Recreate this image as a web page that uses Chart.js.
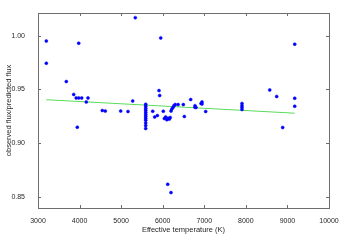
<!DOCTYPE html>
<html>
<head>
<meta charset="utf-8">
<script src="https://cdn.jsdelivr.net/npm/chart.js@4/dist/chart.umd.min.js"></script>
<style>
  html, body { margin: 0; padding: 0; background: #fff; overflow: hidden; }
  #fluxChart { display: block; }
</style>
</head>
<body>
<canvas id="fluxChart" width="351" height="248"></canvas>
<script>
// effective temperature (K) of each star
const tempK = [
    3200, 3200, 3979, 3681, 3859, 3918, 3979, 4051, 4203, 4162, 3945,
    4547, 4619, 4989, 5165, 5278, 5340,
    5591, 5591, 5591, 5591, 5591, 5591, 5591, 5591, 5591, 5591, 5591, 5591,
    5759, 5806, 5870, 5927, 5911, 5952, 6014,
    6040, 6070, 6100, 6130, 6160, 6180, 6120, 6199,
    6200, 6220, 6250, 6270, 6300, 6370, 6495, 6520, 6673, 6777, 6777, 6921,
    6800, 6945, 6945, 7034,
    7907, 7907, 7907, 7907,
    8574, 8742, 8886, 9175, 9175, 9175
];
// observed flux / predicted flux
const fluxRatio = [
    0.995, 0.9744, 0.993, 0.9574, 0.9454, 0.9422, 0.9422, 0.9422, 0.9422, 0.9385, 0.915,
    0.9305, 0.930, 0.930, 0.9296, 0.9394, 1.0167,
    0.9363, 0.9345, 0.9326, 0.9308, 0.9289, 0.927, 0.9252, 0.9233, 0.9215, 0.919, 0.9165, 0.9138,
    0.9298, 0.9245, 0.9258, 0.9444, 0.949, 0.9979, 0.9298,
    0.9230, 0.9245, 0.9220, 0.9232, 0.9225, 0.9240, 0.862, 0.8543,
    0.9300, 0.9320, 0.9335, 0.9350, 0.9360, 0.936, 0.936, 0.925, 0.9407, 0.935, 0.9335, 0.937,
    0.9333, 0.9385, 0.9366, 0.9296,
    0.937, 0.935, 0.9333, 0.9314,
    0.9496, 0.9435, 0.9147, 0.9921, 0.9419, 0.9345
];
// linear fit end points
const fitTemp = [3200, 9175];
const fitRatio = [0.9405, 0.9280];

const xTicks = [3000, 4000, 5000, 6000, 7000, 8000, 9000, 10000];
const yTicks = [0.85, 0.90, 0.95, 1.00];

const points = tempK.map((t, i) => ({ x: t, y: fluxRatio[i] }));
const fitLine = fitTemp.map((t, i) => ({ x: t, y: fitRatio[i] }));

// box round the plot with small ticks pointing inwards
const boxPlugin = {
    id: 'boxTicks',
    afterDatasetsDraw(chart) {
        const ctx = chart.ctx;
        const a = chart.chartArea;
        const xs = chart.scales.x;
        const ys = chart.scales.y;
        ctx.save();
        ctx.strokeStyle = '#6e6e6e';
        ctx.lineWidth = 1;
        ctx.beginPath();
        xTicks.forEach((v) => {
            const px = Math.round(xs.getPixelForValue(v)) + 0.5;
            ctx.moveTo(px, a.bottom); ctx.lineTo(px, a.bottom - 3);
            ctx.moveTo(px, a.top); ctx.lineTo(px, a.top + 3);
        });
        yTicks.forEach((v) => {
            const py = Math.round(ys.getPixelForValue(v)) + 0.5;
            ctx.moveTo(a.left, py); ctx.lineTo(a.left + 3, py);
            ctx.moveTo(a.right, py); ctx.lineTo(a.right - 3, py);
        });
        ctx.stroke();
        ctx.strokeRect(Math.round(a.left) + 0.5, Math.round(a.top) + 0.5,
            Math.round(a.right - a.left), Math.round(a.bottom - a.top));
        ctx.restore();
    }
};

new Chart(document.getElementById('fluxChart'), {
    type: 'scatter',
    data: {
        datasets: [{
            data: points,
            backgroundColor: '#0000ff',
            borderColor: '#0000ff',
            borderWidth: 0.5,
            pointRadius: 1.5,
            pointHoverRadius: 1.5,
            order: 1
        }, {
            type: 'line',
            data: fitLine,
            borderColor: 'rgb(90,220,90)',
            borderWidth: 1,
            pointRadius: 0,
            fill: false,
            order: 2
        }]
    },
    plugins: [boxPlugin],
    options: {
        responsive: false,
        animation: false,
        devicePixelRatio: 1,
        layout: { padding: { top: 13, right: 22, left: 4, bottom: 14 } },
        plugins: {
            legend: { display: false },
            tooltip: { enabled: false }
        },
        scales: {
            x: {
                type: 'linear',
                min: 3000,
                max: 10000,
                afterBuildTicks: (s) => { s.ticks = xTicks.map((v) => ({ value: v })); },
                afterFit: (s) => { s.height = 26; },
                grid: { display: false },
                border: { display: false },
                ticks: {
                    color: '#262626',
                    font: { family: 'Liberation Sans', size: 7 },
                    padding: 1,
                    maxRotation: 0,
                    callback: (v) => String(v)
                },
                title: {
                    display: true,
                    text: 'Effective temperature (K)',
                    color: '#262626',
                    font: { family: 'Liberation Sans', size: 7.5 },
                    padding: { top: 2, bottom: 0 }
                }
            },
            y: {
                type: 'linear',
                min: 0.840,
                max: 1.021,
                afterBuildTicks: (s) => { s.ticks = yTicks.map((v) => ({ value: v })); },
                afterFit: (s) => { s.width = 34; },
                grid: { display: false },
                border: { display: false },
                ticks: {
                    color: '#262626',
                    font: { family: 'Liberation Sans', size: 7 },
                    padding: 5,
                    callback: (v) => v.toFixed(2)
                },
                title: {
                    display: true,
                    text: 'observed flux/predicted flux',
                    color: '#262626',
                    font: { family: 'Liberation Sans', size: 7.5 },
                    padding: { top: 0, bottom: 2 }
                }
            }
        }
    }
});
</script>
</body>
</html>
